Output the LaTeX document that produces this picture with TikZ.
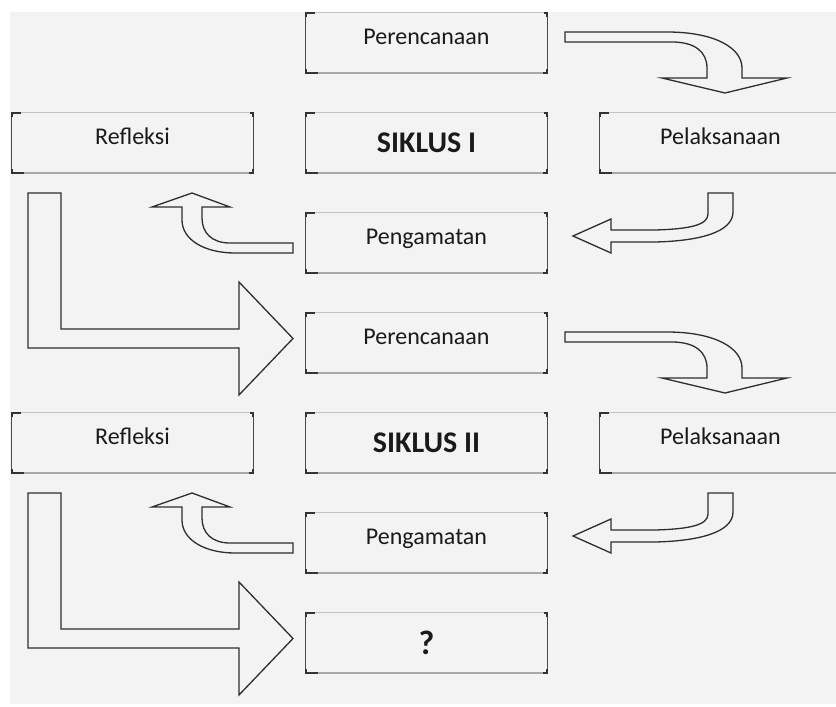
\documentclass[tikz,border=0pt]{standalone}
\usepackage{fontspec}
\setmainfont{Carlito}
\definecolor{bg}{HTML}{F3F3F3}
\definecolor{edgelight}{HTML}{C2C2C2}
\definecolor{edgemid}{HTML}{A8A8A8}
\definecolor{edgedark}{HTML}{4A4A4A}
\definecolor{arrowline}{HTML}{2E2E2E}
\definecolor{txt}{HTML}{1A1A1A}
\tikzset{
  box/.style={minimum width=241pt, minimum height=60pt, inner sep=0pt, text=txt,
    font=\fontsize{24}{28}\selectfont, text height=17pt, text depth=15pt},
  boldbox/.style={box, font=\bfseries\fontsize{30}{34}\selectfont, text height=22pt, text depth=4pt},
  qbox/.style={box, font=\bfseries\fontsize{34}{38}\selectfont, text height=24pt, text depth=2pt},
  blockarrow/.style={draw=arrowline, fill=bg, line width=1.3pt, line join=miter},
  lightedge/.style={draw=edgelight, line width=1pt},
  midedge/.style={draw=edgemid, line width=1.6pt},
  darkedge/.style={draw=edgedark, line width=1pt},
  tick/.style={draw=black!80, line width=1.5pt},
}
\newcommand\drawbox[1]{%
  \draw[lightedge] (#1.north west) -- (#1.north east);
  \draw[midedge] (#1.south west) -- (#1.south east);
  \draw[darkedge] (#1.north west) -- (#1.south west);
  \draw[darkedge] (#1.north east) -- (#1.south east);
  \draw[tick] ([xshift=9pt]#1.north west) -- (#1.north west) -- ([yshift=-4pt]#1.north west);
  \draw[tick] ([yshift=4pt]#1.south west) -- (#1.south west) -- ([xshift=12pt]#1.south west);
  \draw[tick] ([xshift=-3pt]#1.north east) -- (#1.north east) -- ([yshift=-4pt]#1.north east);
  \draw[tick] ([yshift=4pt]#1.south east) -- (#1.south east) -- ([xshift=-4pt]#1.south east);
}
\begin{document}
\begin{tikzpicture}[x=1pt, y=-1pt]
\useasboundingbox (0,0) rectangle (836,707);
\clip (0,0) rectangle (836,707);
\fill[white] (0,0) rectangle (836,707);
\fill[bg] (10,12) rectangle (836,704);

% boxes
\node[box] (p1) at (426.5,43) {Perencanaan};
\node[box] (r1) at (132.5,143) {Refleksi};
\node[boldbox] (s1) at (426.5,143) {SIKLUS I};
\node[box] (l1) at (720.5,143) {Pelaksanaan};
\node[box] (g1) at (426.5,243) {Pengamatan};
\node[box] (p2) at (426.5,343) {Perencanaan};
\node[box] (r2) at (132.5,443) {Refleksi};
\node[boldbox] (s2) at (426.5,443) {SIKLUS II};
\node[box] (l2) at (720.5,443) {Pelaksanaan};
\node[box] (g2) at (426.5,543) {Pengamatan};
\node[qbox] (q) at (426.5,643) {?};
\foreach \n in {p1,r1,s1,l1,g1,p2,r2,s2,l2,g2,q}{\drawbox{\n}}

% block arrows, one set per cycle
\foreach \dy in {0,300}{
\begin{scope}[shift={(0,\dy)}]
  % Perencanaan -> Pelaksanaan
  \draw[blockarrow] (565,32) -- (667,32) .. controls (715,32) and (742,48) .. (742,68)
    -- (742,78) -- (787,78) -- (725,93) -- (662,78) -- (707,78) -- (707,68)
    .. controls (707,52) and (695,42) .. (672,42) -- (565,42) -- cycle;
  % Pelaksanaan -> Pengamatan
  \draw[blockarrow] (708,193) -- (733,193) -- (733,212)
    .. controls (733,232) and (700,241) .. (655,242) -- (611,242) -- (611,253)
    -- (573,236) -- (611,219) -- (611,230) -- (655,230)
    .. controls (690,229) and (708,225) .. (708,214) -- cycle;
  % Pengamatan -> Refleksi
  \draw[blockarrow] (293,243) -- (230,243) .. controls (212,243) and (202,233) .. (202,218)
    -- (202,207) -- (230,207) -- (192,193) -- (152,207) -- (182,207) -- (182,220)
    .. controls (182,240) and (205,253) .. (235,253) -- (293,253) -- cycle;
  % Refleksi -> next Perencanaan
  \draw[blockarrow] (28,193) -- (61,193) -- (61,329) -- (239,329) -- (239,282)
    -- (293,338.5) -- (239,395) -- (239,348) -- (28,348) -- cycle;
\end{scope}
}
\end{tikzpicture}
\end{document}
